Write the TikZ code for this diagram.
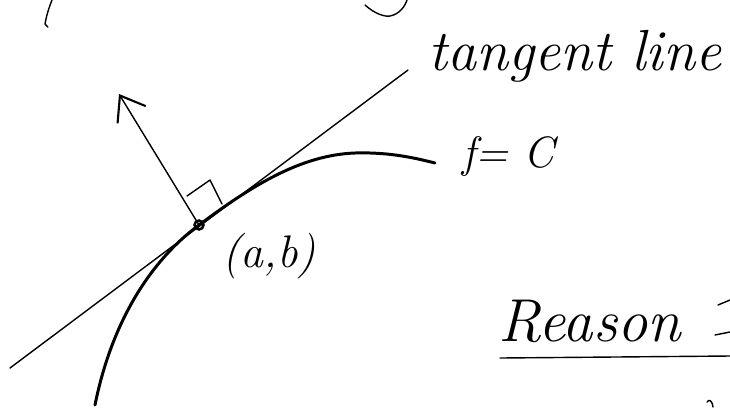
\documentclass[tikz,border=0pt]{standalone}
\usepackage{tikz}
\usetikzlibrary{arrows.meta, calc}

\begin{document}
\begin{tikzpicture}[x=0.02cm, y=-0.02cm,
    pen/.style={line width=0.8pt, line cap=round, line join=round},
    level/.style={line width=1.7pt, line cap=round},
    hand/.style={font=\itshape, inner sep=0pt},
    normalarr/.style={pen, -{Straight Barb[length=4.5mm, width=6.6mm, line width=1.2pt]}},
    dot/.style={circle, draw, line width=1.4pt, minimum size=1.8mm, inner sep=0pt}
  ]
  \useasboundingbox (0,0) rectangle (730,407);
  \clip (0,0) rectangle (730,407);

  % point, tangent line and normal
  \node[dot] (P) at (199,225) {};
  \coordinate (T1) at (10,368);
  \coordinate (T2) at (408,70);
  \coordinate (N) at (119,94);

  \draw[pen] (T1) -- (T2);
  \draw[normalarr] (P.center) -- (N);
  \draw[pen] (187,196) -- (210,180) -- (222,204);

  % level curve f = C
  \draw[level] (95,405) .. controls (110,330) and (145,265) .. (P.center)
               .. controls (250,187) and (300,155) .. (355,153)
               .. controls (390,152) and (415,158) .. (435,163);

  % labels
  \node[hand, anchor=base west, font=\fontsize{33}{40}\selectfont\itshape] (tan) at (428,70) {tangent line};
  \node[hand, anchor=base west, font=\fontsize{25}{30}\selectfont\itshape] (fc) at (462,167) {f= C};
  \node[hand, anchor=base west, font=\fontsize{26}{31}\selectfont\itshape] (ab) at (222,267) {(a,b)};
  \node[hand, anchor=base west, font=\fontsize{34.5}{41}\selectfont\itshape] (why) at (498,341) {Reason};
  \draw[pen] (500,358) -- (730,356);

  % cut-off strokes at the edges
  \draw[pen] (52,0) .. controls (48,10) and (46,18) .. (45,24) -- (48,27);
  \draw[pen] (365,5) .. controls (375,14) and (385,17) .. (390,16)
             .. controls (400,14) and (405,6) .. (407,0);
  \draw[pen] (718,305) -- (730,300);
  \draw[pen] (715,335) -- (730,332);
  \draw[pen] (707,402) .. controls (709,399) and (712,400) .. (713,407);
\end{tikzpicture}
\end{document}
